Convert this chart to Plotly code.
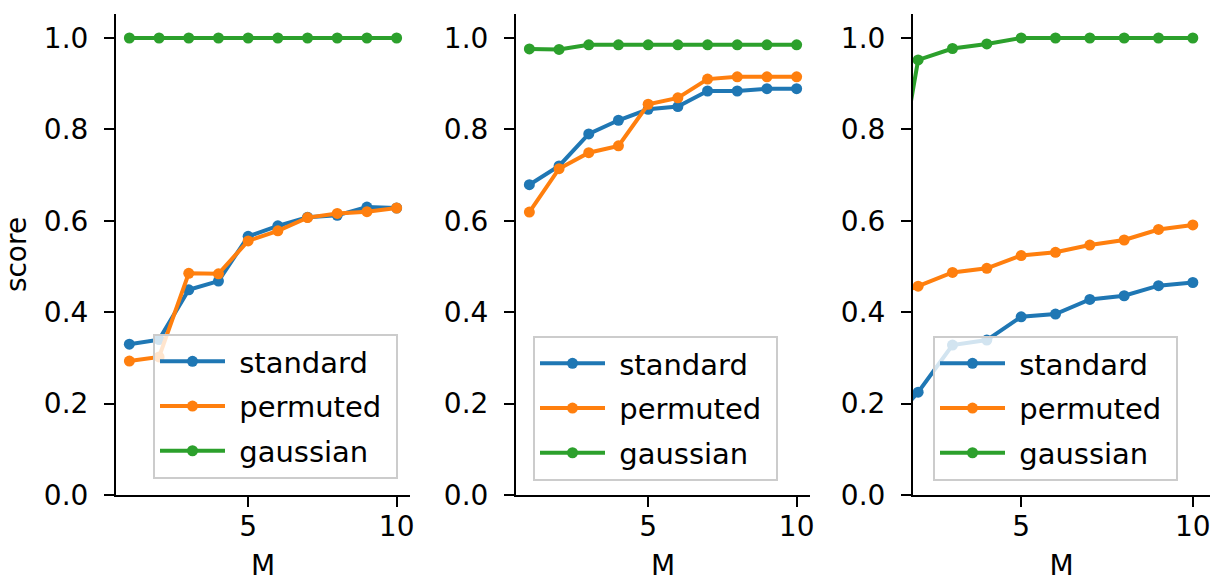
import plotly.graph_objects as go

# M values shared by all three panels
M = [1, 2, 3, 4, 5, 6, 7, 8, 9, 10]
series_names = ["standard", "permuted", "gaussian"]
series_colors = ["#1f77b4", "#ff7f0e", "#2ca02c"]

# panel 1
p1_standard = [0.330, 0.340, 0.449, 0.468, 0.566, 0.589, 0.608, 0.612, 0.630, 0.628]
p1_permuted = [0.293, 0.302, 0.485, 0.484, 0.556, 0.578, 0.607, 0.616, 0.620, 0.628]
p1_gaussian = [1.000, 1.000, 1.000, 1.000, 1.000, 1.000, 1.000, 1.000, 1.000, 1.000]

# panel 2
p2_standard = [0.679, 0.720, 0.790, 0.820, 0.844, 0.850, 0.884, 0.884, 0.889, 0.889]
p2_permuted = [0.619, 0.714, 0.749, 0.764, 0.855, 0.869, 0.910, 0.915, 0.915, 0.915]
p2_gaussian = [0.976, 0.975, 0.985, 0.985, 0.985, 0.985, 0.985, 0.985, 0.985, 0.985]

# panel 3
p3_standard = [0.140, 0.225, 0.328, 0.339, 0.390, 0.396, 0.428, 0.436, 0.458, 0.465]
p3_permuted = [0.430, 0.457, 0.487, 0.496, 0.524, 0.531, 0.547, 0.558, 0.581, 0.591]
p3_gaussian = [0.520, 0.952, 0.977, 0.987, 1.000, 1.000, 1.000, 1.000, 1.000, 1.000]

panels = [
    [p1_standard, p1_permuted, p1_gaussian],
    [p2_standard, p2_permuted, p2_gaussian],
    [p3_standard, p3_permuted, p3_gaussian],
]

y_ticks = [0.0, 0.2, 0.4, 0.6, 0.8, 1.0]
y_ticktext = ["0.0", "0.2", "0.4", "0.6", "0.8", "1.0"]
x_ticks = [5, 10]
x_ticktext = ["5", "10"]

W, H = 1213, 582
FONT = "DejaVu Sans"
FS = 28
LEG_FS = 29
NB = "\u00a0"  # padding around legend labels

# panel geometry in pixels (left, right) and shared vertical extent
x_px = [(116, 410), (516, 810), (913, 1210)]
x_ranges = [[0.55, 10.45], [0.55, 10.45], [1.85, 10.5]]
y_top_px, y_bot_px = 14, 495
y_range = [0, 1.0525]
legend_px = [(398, 479), (778, 481), (1178, 481)]

fig = go.Figure()

for i, series in enumerate(panels):
    n = "" if i == 0 else str(i + 1)
    legend_id = "legend" + n
    for name, color, vals in zip(series_names, series_colors, series):
        fig.add_trace(go.Scatter(
            x=M, y=vals, name=NB + name + NB, mode="lines+markers",
            line=dict(color=color, width=4),
            marker=dict(color=color, size=11),
            xaxis="x" + n, yaxis="y" + n,
            legend=legend_id, legendgroup=name,
        ))

layout = dict(
    width=W, height=H, autosize=False,
    margin=dict(l=0, r=0, t=0, b=0, pad=0),
    paper_bgcolor="white", plot_bgcolor="white",
    font=dict(family=FONT, size=FS, color="black"),
)

axis_common = dict(
    showline=True, linecolor="black", linewidth=2,
    ticks="outside", ticklen=10, tickwidth=2, tickcolor="black",
    showgrid=False, zeroline=False, automargin=False,
    tickfont=dict(family=FONT, size=FS, color="black"),
)

for i in range(3):
    n = "" if i == 0 else str(i + 1)
    l, r = x_px[i]
    layout["xaxis" + n] = dict(
        axis_common,
        domain=[l / W, r / W], range=x_ranges[i],
        anchor="y" + n, tickvals=x_ticks, ticktext=x_ticktext,
        title=dict(text="M", font=dict(family=FONT, size=FS), standoff=26),
        ticklabelstandoff=-5,
    )
    layout["yaxis" + n] = dict(
        axis_common,
        domain=[(H - y_bot_px) / H, (H - y_top_px) / H], range=y_range,
        anchor="x" + n, tickvals=y_ticks, ticktext=y_ticktext,
        ticklabelstandoff=10,
    )
    lx, ly = legend_px[i]
    layout["legend" + n] = dict(
        x=lx / W, y=(H - ly) / H, xanchor="right", yanchor="bottom",
        bgcolor="rgba(255,255,255,0.8)", bordercolor="#cccccc", borderwidth=2,
        font=dict(family=FONT, size=LEG_FS, color="black"),
        itemwidth=65, tracegroupgap=4, traceorder="grouped",
    )

layout["yaxis"]["title"] = dict(text="score", font=dict(family=FONT, size=FS), standoff=9)

fig.update_layout(**layout)
fig.write_html("out.html")
